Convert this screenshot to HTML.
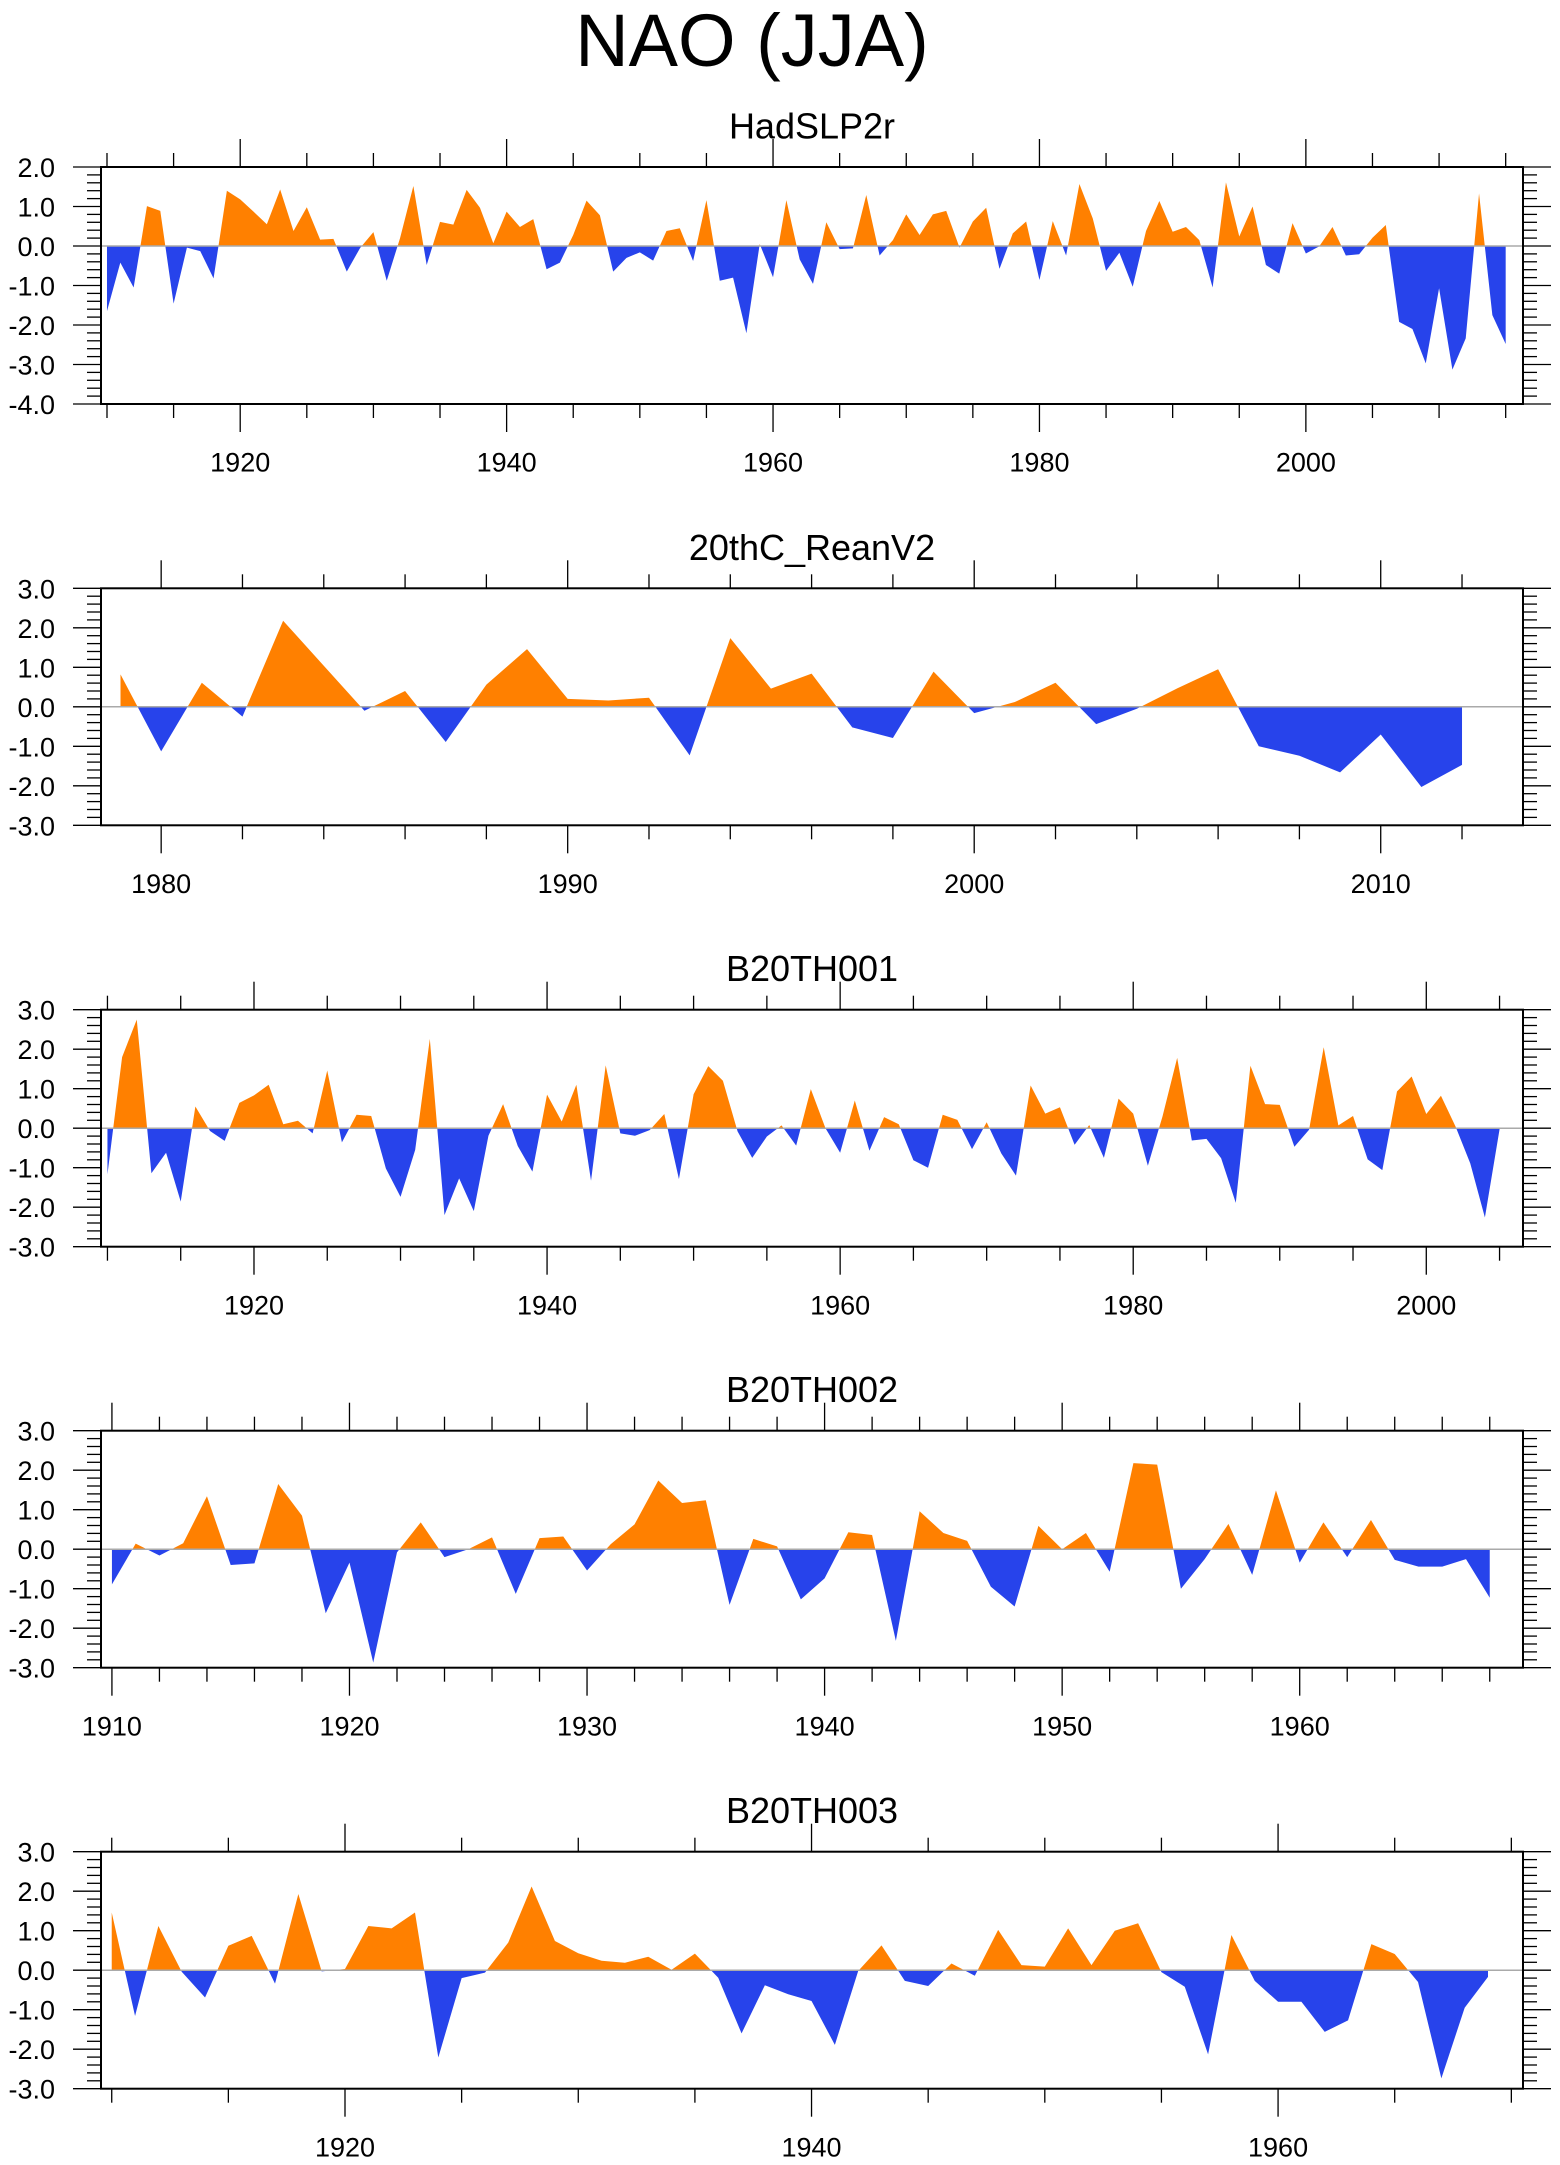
<!DOCTYPE html>
<html><head><meta charset="utf-8"><style>
html,body{margin:0;padding:0;background:#fff;}
svg{display:block;font-family:"Liberation Sans",sans-serif;}
</style></head><body>
<svg id="chart" width="1560" height="2165" viewBox="0 0 1560 2165" xmlns="http://www.w3.org/2000/svg">
<text x="752" y="66" font-size="74" text-anchor="middle">NAO (JJA)</text>
</svg>
<script>
const hadYears0 = 1910;
const hadValues = [-1.65,-0.42,-1.05,1.01,0.89,-1.46,-0.04,-0.13,-0.82,1.40,1.18,0.87,0.55,1.43,0.38,0.98,0.16,0.18,-0.65,-0.05,0.35,-0.88,0.2,1.52,-0.48,0.61,0.54,1.42,0.97,0.07,0.87,0.48,0.68,-0.59,-0.42,0.28,1.15,0.78,-0.65,-0.30,-0.16,-0.37,0.38,0.45,-0.38,1.16,-0.88,-0.80,-2.21,0.05,-0.79,1.16,-0.34,-0.96,0.6,-0.08,-0.06,1.29,-0.24,0.15,0.80,0.28,0.80,0.89,-0.04,0.62,0.97,-0.58,0.32,0.62,-0.86,0.63,-0.24,1.57,0.70,-0.63,-0.17,-1.03,0.38,1.14,0.36,0.48,0.15,-1.05,1.61,0.24,1.0,-0.48,-0.70,0.58,-0.19,-0.01,0.48,-0.24,-0.21,0.21,0.53,-1.92,-2.10,-2.97,-1.07,-3.13,-2.34,1.33,-1.75,-2.48];
const reanYears0 = 1979;
const reanValues = [0.82,-1.13,0.61,-0.25,2.18,1.04,-0.1,0.4,-0.89,0.56,1.46,0.2,0.16,0.23,-1.23,1.74,0.46,0.84,-0.52,-0.79,0.89,-0.16,0.12,0.61,-0.44,-0.05,0.47,0.95,-1.0,-1.24,-1.66,-0.7,-2.03,-1.47];
const b001Years0 = 1910;
const b001Values = [-1.17,1.80,2.75,-1.14,-0.62,-1.86,0.55,-0.07,-0.32,0.64,0.83,1.10,0.10,0.19,-0.13,1.46,-0.36,0.34,0.31,-1.02,-1.74,-0.55,2.26,-2.20,-1.27,-2.10,-0.19,0.61,-0.45,-1.10,0.85,0.17,1.10,-1.33,1.59,-0.13,-0.19,-0.05,0.36,-1.29,0.86,1.57,1.20,-0.08,-0.75,-0.21,0.07,-0.44,0.99,0.0,-0.62,0.70,-0.57,0.28,0.10,-0.81,-1.0,0.34,0.21,-0.53,0.15,-0.64,-1.20,1.08,0.37,0.53,-0.42,0.08,-0.75,0.75,0.37,-0.95,0.30,1.78,-0.31,-0.27,-0.76,-1.89,1.58,0.61,0.59,-0.47,-0.04,2.05,0.07,0.31,-0.79,-1.06,0.93,1.31,0.36,0.82,0.04,-0.89,-2.26,-0.03];
const b002Years0 = 1910;
const b002Values = [-0.89,0.14,-0.16,0.15,1.34,-0.40,-0.36,1.65,0.85,-1.62,-0.34,-2.87,-0.08,0.68,-0.20,0.0,0.30,-1.13,0.28,0.32,-0.54,0.13,0.63,1.74,1.17,1.24,-1.41,0.26,0.07,-1.27,-0.74,0.43,0.36,-2.32,0.96,0.41,0.21,-0.95,-1.45,0.59,0.0,0.41,-0.57,2.18,2.14,-1.0,-0.25,0.64,-0.65,1.49,-0.34,0.68,-0.20,0.74,-0.27,-0.44,-0.44,-0.25,-1.23];
const b003Years0 = 1910;
const b003Values = [1.46,-1.16,1.12,-0.04,-0.69,0.62,0.87,-0.34,1.93,-0.03,0.03,1.12,1.06,1.46,-2.21,-0.20,-0.06,0.70,2.12,0.74,0.43,0.24,0.19,0.34,0.01,0.42,-0.19,-1.60,-0.38,-0.61,-0.78,-1.89,-0.02,0.63,-0.27,-0.40,0.17,-0.14,1.02,0.13,0.09,1.06,0.13,1.0,1.19,-0.05,-0.42,-2.13,0.89,-0.27,-0.80,-0.80,-1.56,-1.27,0.66,0.41,-0.30,-2.74,-0.95,-0.17];
const panelTitles = ["HadSLP2r","20thC_ReanV2","B20TH001","B20TH002","B20TH003"];
const yMaxs = [2,3,3,3,3];
const yMins = [-4,-3,-3,-3,-3];
const xMins = [1909.55,1978.52,1909.56,1909.54,1909.54];
const xMaxs = [2016.3,2013.5,2006.6,1969.4,1970.5];
const minorSteps = [5,2,5,2,5];
const tickStarts = [1910,1980,1910,1910,1910];

const NS="http://www.w3.org/2000/svg";
const svg=document.getElementById('chart');
function mk(tag,attrs,parent){const e=document.createElementNS(NS,tag);for(const k in attrs)e.setAttribute(k,attrs[k]);(parent||svg).appendChild(e);return e;}
const L=101,R=1523,H=237;
const tops=[167,588.3,1009.7,1430.7,1851.7];
const series=[[hadYears0,hadValues],[reanYears0,reanValues],[b001Years0,b001Values],[b002Years0,b002Values],[b003Years0,b003Values]];

for(let p=0;p<5;p++){
  const T=tops[p],B=T+H;
  const xs=y=>L+(y-xMins[p])/(xMaxs[p]-xMins[p])*(R-L);
  const ys=v=>T+(yMaxs[p]-v)/(yMaxs[p]-yMins[p])*H;
  const g=mk('g',{});
  
  
  const t=mk('text',{x:(L+R)/2,y:T-28.5,'font-size':36,'text-anchor':'middle'},g);
  t.textContent=panelTitles[p];
  
  
  const y0=ys(0);
  const [yr0,vals]=series[p];
  let pts=vals.map((v,i)=>xs(yr0+i).toFixed(2)+','+ys(v).toFixed(2));
  const area='M'+xs(yr0).toFixed(2)+','+y0+' L'+pts.join(' L')+' L'+xs(yr0+vals.length-1).toFixed(2)+','+y0+' Z';
  const cidA='ca'+p,cidB='cb'+p;
  const defs=mk('defs',{},g);
  const c1=mk('clipPath',{id:cidA},defs);mk('rect',{x:L,y:T,width:R-L,height:y0-T},c1);
  const c2=mk('clipPath',{id:cidB},defs);mk('rect',{x:L,y:y0,width:R-L,height:B-y0},c2);
  const pa=mk('path',{d:area,fill:'#ff8000','clip-path':'url(#'+cidA+')'},g);
  
  
  const pb=mk('path',{d:area,fill:'#2743eb','clip-path':'url(#'+cidB+')'},g);
  
  
  const zl=mk('line',{x1:L,x2:R,y1:y0,y2:y0,stroke:'#aaa','stroke-width':1.5},g);
  
  
  const fr=mk('rect',{x:L,y:T,width:R-L,height:H,fill:'none',stroke:'#000','stroke-width':2},g);
  
  
  for(let yr=tickStarts[p];yr<=xMaxs[p];yr+=minorSteps[p]){
    if(yr<xMins[p])continue;
    const x=xs(yr);
    const isMaj=(p===1||p===3)?(yr%10===0):(yr%20===0);
    const len=isMaj?28:14;
    mk('line',{x1:x,x2:x,y1:T,y2:T-len,stroke:'#000','stroke-width':1.3},g);
    mk('line',{x1:x,x2:x,y1:B,y2:B+len,stroke:'#000','stroke-width':1.3},g);
    if(isMaj){
      const lb=mk('text',{x:x,y:B+67.7,'font-size':27,'text-anchor':'middle'},g);
      lb.textContent=yr;
      
      
    }
  }
  for(let k=Math.round(yMins[p]*5);k<=yMaxs[p]*5;k++){
    const v=k/5,y=ys(v),isMaj=(k%5===0),len=isMaj?28:14;
    mk('line',{x1:L,x2:L-len,y1:y,y2:y,stroke:'#000','stroke-width':1.3},g);
    mk('line',{x1:R,x2:R+len,y1:y,y2:y,stroke:'#000','stroke-width':1.3},g);
    if(isMaj){
      const lb=mk('text',{x:55,y:y+10,'font-size':27,'text-anchor':'end'},g);
      lb.textContent=v.toFixed(1);
      
      
    }
  }
}
</script>
</body></html>
